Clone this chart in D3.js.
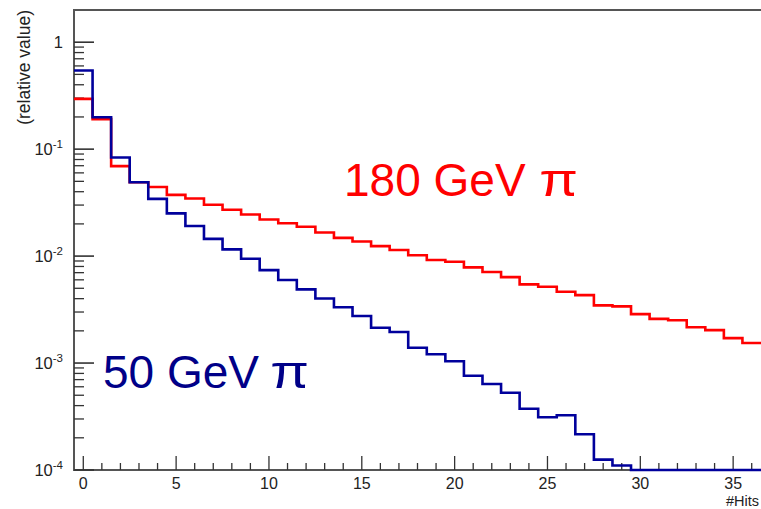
<!DOCTYPE html>
<html>
<head>
<meta charset="utf-8">
<script src="https://cdn.jsdelivr.net/npm/d3@7"></script>
<style>
  html, body { margin: 0; padding: 0; background: #fff; }
  svg { display: block; }
  text { font-family: "Liberation Sans", Arial, Helvetica, sans-serif; }
</style>
</head>
<body>
<svg id="chart" width="761" height="509"></svg>
<script>
// Number of hits per event (bin centres)
const hits = d3.range(0, 37);

// Normalised hit multiplicity, 180 GeV pions
const pion180 = [
  0.295, 0.191, 0.0694, 0.0491, 0.0442, 0.0374, 0.0346, 0.0302, 0.0271, 0.0245,
  0.0220, 0.0203, 0.0188, 0.0166, 0.0148, 0.0137, 0.0124, 0.0114, 0.0102, 0.00918,
  0.00885, 0.00784, 0.00709, 0.00636, 0.00544, 0.00517, 0.00464, 0.00432, 0.00346, 0.00339,
  0.00287, 0.00259, 0.00251, 0.00216, 0.00203, 0.00171, 0.00154
];

// Normalised hit multiplicity, 50 GeV pions (empty bins are 0)
const pion50 = [
  0.544, 0.199, 0.0836, 0.0491, 0.0343, 0.0251, 0.0191, 0.0145, 0.01155, 0.00944,
  0.00740, 0.00597, 0.00489, 0.00402, 0.00332, 0.00275, 0.00214, 0.00195, 0.00139, 0.00121,
  0.00104, 0.00076, 0.000637, 0.000528, 0.000374, 0.000311, 0.000325, 0.000216, 0.000125, 0.000110,
  0, 0, 0, 0, 0, 0, 0
];

const xMajorTicks = [0, 5, 10, 15, 20, 25, 30, 35];
const yDecades = [1, 0.1, 0.01, 0.001, 0.0001];
const yDecadeLabels = [["1", null], ["10", "-1"], ["10", "-2"], ["10", "-3"], ["10", "-4"]];

const svg = d3.select("#chart");
const frameLeft = 74, frameTop = 10, frameBottom = 470, frameRight = 761;

const x = d3.scaleLinear().domain([-0.5, 36.5]).range([frameLeft, frameRight]);
const y = d3.scaleLog().domain([1e-4, 2]).range([frameBottom, frameTop]);
const yMin = y.domain()[0];

const axisColor = "#555";
const tickColor = "#333";
const labelColor = "#222";

// Frame: left, top and bottom edges
svg.append("path")
  .attr("d", `M${frameRight + 2},${frameTop}H${frameLeft}V${frameBottom}H${frameRight + 2}`)
  .attr("fill", "none")
  .attr("stroke", axisColor)
  .attr("stroke-width", 2);

// X axis ticks (drawn inward, upward)
const xTicks = d3.range(0, 37);
svg.append("g").selectAll("line").data(xTicks).join("line")
  .attr("x1", d => x(d)).attr("x2", d => x(d))
  .attr("y1", frameBottom)
  .attr("y2", d => frameBottom - (d % 5 === 0 ? 14 : 7))
  .attr("stroke", tickColor).attr("stroke-width", 1.3);

svg.append("g").selectAll("text").data(xMajorTicks).join("text")
  .attr("x", d => x(d)).attr("y", 488.5)
  .attr("text-anchor", "middle")
  .attr("font-size", 16)
  .attr("fill", labelColor)
  .text(d => d);

svg.append("text")
  .attr("x", 759).attr("y", 505.8)
  .attr("text-anchor", "end")
  .attr("font-size", 14.5)
  .attr("fill", labelColor)
  .text("#Hits");

// Y axis ticks: decades (major) and 2..9 multiples (minor)
const yMinor = [];
[1e-4, 1e-3, 1e-2, 1e-1, 1].forEach(dec => {
  for (let m = 2; m <= 9; m++) {
    const v = dec * m;
    if (v < y.domain()[1]) yMinor.push(v);
  }
});
svg.append("g").selectAll("line").data(yMinor).join("line")
  .attr("x1", frameLeft).attr("x2", frameLeft + 10)
  .attr("y1", d => y(d)).attr("y2", d => y(d))
  .attr("stroke", tickColor).attr("stroke-width", 1.3);
svg.append("g").selectAll("line").data(yDecades).join("line")
  .attr("x1", frameLeft).attr("x2", frameLeft + 20)
  .attr("y1", d => y(d)).attr("y2", d => y(d))
  .attr("stroke", tickColor).attr("stroke-width", 1.6);

const yLabels = svg.append("g").selectAll("text").data(yDecades).join("text")
  .attr("x", 63)
  .attr("y", d => y(d) + 6)
  .attr("text-anchor", "end")
  .attr("font-size", 16.5)
  .attr("fill", labelColor);
yLabels.each(function(d, i) {
  const [base, exp] = yDecadeLabels[i];
  const t = d3.select(this);
  t.append("tspan").text(base);
  if (exp) t.append("tspan").attr("dy", -7).attr("font-size", 11.5).text(exp);
});

svg.append("text")
  .attr("transform", "translate(30,10) rotate(-90)")
  .attr("text-anchor", "end")
  .attr("font-size", 17.5)
  .attr("fill", labelColor)
  .text("(relative value)");

// Step histograms
const stepLine = d3.line()
  .x(d => x(d[0]))
  .y(d => y(Math.max(d[1], yMin)))
  .curve(d3.curveStepAfter);

function stepPoints(values) {
  const pts = hits.map((h, i) => [h - 0.5, values[i]]);
  pts.push([hits[hits.length - 1] + 0.5, values[values.length - 1]]);
  return pts;
}

const red = "#ff0000";
const blue = "#00009c";

svg.append("path")
  .attr("d", stepLine(stepPoints(pion180)))
  .attr("fill", "none")
  .attr("stroke", red)
  .attr("stroke-width", 2.6);

svg.append("path")
  .attr("d", stepLine(stepPoints(pion50)))
  .attr("fill", "none")
  .attr("stroke", blue)
  .attr("stroke-width", 2.6);

// Series labels: energy text plus a wide upright pi glyph
function seriesLabel(xPos, endPos, yPos, energy, color) {
  svg.append("text")
    .attr("x", xPos).attr("y", yPos)
    .attr("font-size", 46)
    .attr("fill", color)
    .text(energy);
  svg.append("text")
    .attr("transform", `translate(${endPos},${yPos}) scale(1.22,1)`)
    .attr("text-anchor", "end")
    .attr("font-size", 46)
    .attr("fill", color)
    .text("π");
}
seriesLabel(344, 578, 196, "180 GeV", red);
seriesLabel(103, 309, 388, "50 GeV", "#000088");
</script>
</body>
</html>
